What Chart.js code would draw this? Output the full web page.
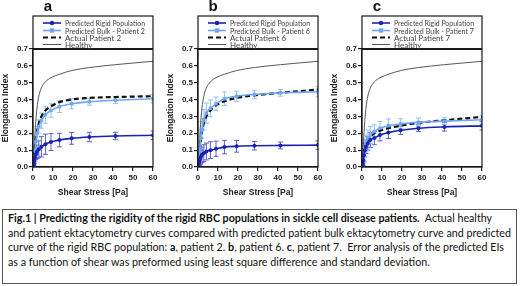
<!DOCTYPE html>
<html>
<head>
<meta charset="utf-8">
<script src="https://cdn.jsdelivr.net/npm/chart.js@4.4.1/dist/chart.umd.min.js"></script>
<style>
  html, body { margin: 0; padding: 0; background: #fff; }
  #wrap { position: relative; width: 520px; height: 286px; overflow: hidden; }
  canvas { position: absolute; top: 0; }
  #cap {
    position: absolute; left: 2px; top: 209px; width: 513px; height: 73px;
    border: 1.5px solid #555; box-sizing: content-box;
  }
  #capText {
    position: absolute; left: 5px; top: 1px;
    font-family: Lato, "Open Sans", sans-serif; font-size: 11.8px; line-height: 14.5px;
    color: #111; white-space: nowrap; transform-origin: left top;
  }
  #capText div span.l { display: inline-block; }
</style>
</head>
<body>
<div id="wrap">
  <canvas id="panelA" width="165" height="200" style="left:0px"></canvas>
  <canvas id="panelB" width="165" height="200" style="left:165px"></canvas>
  <canvas id="panelC" width="165" height="200" style="left:329px"></canvas>
  <div id="cap">
    <div id="capText">
      <div><span class="l"><b>Fig.1 | Predicting the rigidity of the rigid RBC populations in sickle cell disease patients.</b>&nbsp; Actual healthy</span></div>
      <div><span class="l">and patient ektacytometry curves compared with predicted patient bulk ektacytometry curve and predicted</span></div>
      <div><span class="l">curve of the rigid RBC population: <b>a</b>, patient 2. <b>b</b>, patient 6. <b>c</b>, patient 7.&nbsp; Error analysis of the predicted EIs</span></div>
      <div><span class="l">as a function of shear was preformed using least square difference and standard deviation.</span></div>
    </div>
  </div>
</div>
<script>
// shear stress steps (Pa)
const shear = [0.3, 0.44, 0.64, 0.94, 1.37, 2.0, 2.9, 4.2, 6.2, 9.0, 13.2, 19.3, 28.2, 41.2, 60];
const healthy = [0.04, 0.07, 0.12, 0.19, 0.27, 0.35, 0.42, 0.47, 0.505, 0.53, 0.55, 0.572, 0.59, 0.607, 0.627];

// panel a - patient 2
const rigidA    = [0.01, 0.02, 0.035, 0.055, 0.075, 0.09, 0.105, 0.12, 0.135, 0.148, 0.16, 0.17, 0.178, 0.184, 0.188];
const rigidErrA = [0.005, 0.01, 0.015, 0.02, 0.03, 0.04, 0.05, 0.06, 0.06, 0.05, 0.04, 0.035, 0.028, 0.022, 0.025];
const bulkA     = [0.01, 0.03, 0.06, 0.10, 0.15, 0.20, 0.24, 0.275, 0.31, 0.335, 0.358, 0.375, 0.387, 0.396, 0.405];
const bulkErrA  = [0.01, 0.02, 0.03, 0.03, 0.03, 0.04, 0.04, 0.045, 0.05, 0.04, 0.035, 0.03, 0.02, 0.02, 0.025];
const actualA   = [0.01, 0.03, 0.06, 0.11, 0.16, 0.21, 0.26, 0.30, 0.335, 0.36, 0.385, 0.40, 0.41, 0.415, 0.42];

// panel b - patient 6
const rigidB    = [0.005, 0.015, 0.03, 0.045, 0.06, 0.072, 0.082, 0.092, 0.10, 0.108, 0.118, 0.123, 0.126, 0.128, 0.13];
const rigidErrB = [0.005, 0.01, 0.02, 0.03, 0.04, 0.045, 0.05, 0.05, 0.05, 0.045, 0.04, 0.035, 0.025, 0.02, 0.025];
const bulkB     = [0.01, 0.03, 0.06, 0.11, 0.17, 0.22, 0.28, 0.32, 0.348, 0.375, 0.405, 0.42, 0.43, 0.44, 0.446];
const bulkErrB  = [0.01, 0.02, 0.03, 0.04, 0.05, 0.05, 0.06, 0.06, 0.05, 0.04, 0.04, 0.03, 0.025, 0.02, 0.03];
const actualB   = [0.005, 0.02, 0.05, 0.09, 0.15, 0.21, 0.26, 0.30, 0.335, 0.365, 0.39, 0.41, 0.425, 0.44, 0.46];

// panel c - patient 7
const rigidC    = [0.01, 0.02, 0.04, 0.07, 0.10, 0.12, 0.14, 0.16, 0.172, 0.19, 0.204, 0.218, 0.23, 0.238, 0.244];
const rigidErrC = [0.01, 0.02, 0.03, 0.04, 0.04, 0.04, 0.04, 0.045, 0.04, 0.035, 0.035, 0.025, 0.02, 0.025, 0.025];
const bulkC     = [0.01, 0.03, 0.05, 0.08, 0.11, 0.14, 0.17, 0.19, 0.21, 0.23, 0.245, 0.256, 0.265, 0.272, 0.28];
const bulkErrC  = [0.01, 0.02, 0.03, 0.04, 0.05, 0.05, 0.05, 0.05, 0.04, 0.04, 0.04, 0.03, 0.025, 0.02, 0.025];
const actualC   = [0.01, 0.03, 0.05, 0.08, 0.11, 0.14, 0.16, 0.18, 0.20, 0.215, 0.23, 0.245, 0.262, 0.277, 0.297];

const panelLetters = ['a', 'b', 'c'];
const patients = ['Patient 2', 'Patient 6', 'Patient 7'];
const yTicks = [0, 0.1, 0.2, 0.3, 0.4, 0.5, 0.6, 0.7];
const xTicks = [0, 10, 20, 30, 40, 50, 60];

const RIGID = '#1b22b3';
const RIGID_ERR = '#5a5fcc';
const BULK = '#6ea7ee';
const BULK_ERR = '#93bff4';
const AXIS = '#1a1a1a';

const pts = (ys) => shear.map((x, i) => ({ x: x, y: ys[i] }));

// error bars + legend box + panel letter
const decoPlugin = {
    id: 'deco',
    beforeDatasetsDraw(chart) {
        const { ctx, chartArea, scales } = chart;
        ctx.save();
        ctx.beginPath();
        ctx.rect(chartArea.left, chartArea.top, chartArea.right - chartArea.left, chartArea.bottom - chartArea.top);
        ctx.clip();
        chart.data.datasets.forEach(ds => {
            if (!ds.errs) return;
            ctx.strokeStyle = ds.errColor;
            ctx.lineWidth = 1;
            ds.data.forEach((p, i) => {
                const x = scales.x.getPixelForValue(p.x);
                const y1 = scales.y.getPixelForValue(p.y + ds.errs[i]);
                const y2 = scales.y.getPixelForValue(p.y - ds.errs[i]);
                ctx.beginPath();
                ctx.moveTo(x, y1); ctx.lineTo(x, y2);
                ctx.moveTo(x - 2.5, y1); ctx.lineTo(x + 2.5, y1);
                ctx.moveTo(x - 2.5, y2); ctx.lineTo(x + 2.5, y2);
                ctx.stroke();
            });
        });
        ctx.restore();
    },
    afterDraw(chart, args, opts) {
        const { ctx, chartArea } = chart;
        const L = chartArea.left, R = chartArea.right, T = chartArea.top, B = chartArea.bottom;
        const boxTop = 16;
        ctx.save();
        ctx.strokeStyle = AXIS;
        ctx.lineWidth = 1.2;
        ctx.strokeRect(L, boxTop, R - L, B - boxTop);
        ctx.lineWidth = 2;
        ctx.beginPath(); ctx.moveTo(L, T); ctx.lineTo(R, T); ctx.stroke();

        // panel letter
        ctx.fillStyle = '#111';
        ctx.font = 'bold 15px "Liberation Sans", Arial, sans-serif';
        ctx.textAlign = 'center';
        ctx.textBaseline = 'alphabetic';
        ctx.fillText(opts.letter, L + 15, 11);

        // legend
        ctx.font = '8px Lato, "Open Sans", sans-serif';
        ctx.textAlign = 'left';
        ctx.textBaseline = 'middle';
        const rows = [23, 30.5, 37.5, 44.5];
        chart.data.datasets.forEach((ds, i) => {
            const y = rows[i];
            const x0 = L + 10, x1 = L + 28;
            ctx.save();
            ctx.strokeStyle = ds.borderColor;
            ctx.lineWidth = ds.borderWidth;
            ctx.setLineDash(ds.borderDash || []);
            ctx.beginPath(); ctx.moveTo(x0, y); ctx.lineTo(x1, y); ctx.stroke();
            ctx.restore();
            if (ds.pointRadius > 0) {
                ctx.fillStyle = ds.borderColor;
                const xm = (x0 + x1) / 2;
                if (ds.pointStyle === 'rect') {
                    ctx.fillRect(xm - 2.2, y - 2.2, 4.4, 4.4);
                } else {
                    ctx.beginPath(); ctx.arc(xm, y, 2.2, 0, Math.PI * 2); ctx.fill();
                }
            }
            ctx.fillStyle = '#444';
            ctx.fillText(ds.label, L + 32, y + 0.5, 80);
        });
        ctx.restore();
    }
};

function makePanel(canvasId, idx, rigid, rigidErr, bulk, bulkErr, actual) {
    return new Chart(document.getElementById(canvasId), {
        type: 'line',
        data: {
            datasets: [
                {
                    label: 'Predicted Rigid Population', data: pts(rigid), errs: rigidErr, errColor: RIGID_ERR,
                    borderColor: RIGID, backgroundColor: RIGID, borderWidth: 1.6,
                    pointStyle: 'circle', pointRadius: 2, pointBorderWidth: 0
                },
                {
                    label: 'Predicted Bulk - ' + patients[idx], data: pts(bulk), errs: bulkErr, errColor: BULK_ERR,
                    borderColor: BULK, backgroundColor: BULK, borderWidth: 1.6,
                    pointStyle: 'rect', pointRadius: 2.4, pointBorderWidth: 0
                },
                {
                    label: 'Actual ' + patients[idx], data: pts(actual),
                    borderColor: '#111', borderWidth: 2.2, borderDash: [5, 3], pointRadius: 0
                },
                {
                    label: 'Healthy', data: pts(healthy),
                    borderColor: '#444', borderWidth: 0.9, pointRadius: 0
                }
            ]
        },
        options: {
            responsive: false,
            animation: false,
            cubicInterpolationMode: 'monotone',
            layout: { padding: { top: 49, right: 12, left: 0, bottom: 0 } },
            plugins: {
                legend: { display: false },
                tooltip: { enabled: false },
                deco: { letter: panelLetters[idx] }
            },
            scales: {
                x: {
                    type: 'linear', min: 0, max: 60,
                    afterBuildTicks: (s) => { s.ticks = xTicks.map(v => ({ value: v })); },
                    afterFit: (s) => { s.height = 33; },
                    grid: { drawOnChartArea: false, drawTicks: true, tickLength: 4, color: AXIS, lineWidth: 1.2 },
                    border: { color: AXIS, width: 1.2 },
                    ticks: { color: '#222', padding: 2, maxRotation: 0, font: { family: '"Liberation Sans", Arial, sans-serif', size: 8, weight: 'bold' } },
                    title: { display: true, text: 'Shear Stress [Pa]', color: '#222', padding: { top: 0, bottom: 2 },
                        font: { family: '"Liberation Sans", Arial, sans-serif', size: 8.5, weight: 'bold' } }
                },
                y: {
                    type: 'linear', min: 0, max: 0.7,
                    afterBuildTicks: (s) => { s.ticks = yTicks.map(v => ({ value: v })); },
                    afterFit: (s) => { s.width = 33; },
                    grid: { drawOnChartArea: false, drawTicks: true, tickLength: 4, color: AXIS, lineWidth: 1.2 },
                    border: { color: AXIS, width: 1.2 },
                    ticks: { color: '#222', padding: 1, callback: (v) => v.toFixed(1),
                        font: { family: '"Liberation Sans", Arial, sans-serif', size: 8, weight: 'bold' } },
                    title: { display: true, text: 'Elongation Index', color: '#222', padding: { top: 1, bottom: 0 },
                        font: { family: '"Liberation Sans", Arial, sans-serif', size: 8.5, weight: 'bold' } }
                }
            }
        },
        plugins: [decoPlugin]
    });
}

makePanel('panelA', 0, rigidA, rigidErrA, bulkA, bulkErrA, actualA);
makePanel('panelB', 1, rigidB, rigidErrB, bulkB, bulkErrB, actualB);
makePanel('panelC', 2, rigidC, rigidErrC, bulkC, bulkErrC, actualC);

// squeeze caption horizontally so line 2 spans the same width as in the figure
const capLines = document.querySelectorAll('#capText span.l');
const w2 = capLines[1].getBoundingClientRect().width;
document.getElementById('capText').style.transform = 'scaleX(' + (503 / w2).toFixed(4) + ')';
</script>
</body>
</html>
